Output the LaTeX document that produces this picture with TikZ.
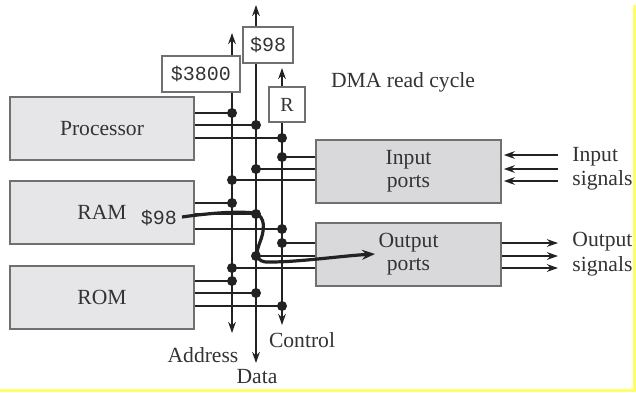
\documentclass[tikz,border=0pt]{standalone}
\usepackage{fontspec}
\setmainfont{Liberation Serif}
\setmonofont{Liberation Mono}
\usetikzlibrary{arrows.meta}
\definecolor{txt}{HTML}{333333}
\definecolor{ln}{HTML}{222222}
\definecolor{blkfill}{HTML}{E6E6E9}
\definecolor{portfill}{HTML}{D9D9DB}
\definecolor{edge}{HTML}{707070}
\definecolor{yel}{HTML}{FFFF66}
\tikzset{
  blk/.style={draw=edge, line width=0.8pt, fill=blkfill, minimum width=92pt, minimum height=31.5pt, inner sep=0pt, text=txt, font=\fontsize{10.8}{12}\selectfont},
  port/.style={blk, fill=portfill, minimum width=92.5pt, align=center, font=\fontsize{10.8}{11.5}\selectfont},
  tag/.style={draw=edge, line width=0.6pt, fill=white, inner sep=0pt, text=txt, font=\ttfamily\fontsize{10}{12}\selectfont},
  lbl/.style={text=txt, inner sep=0pt, font=\fontsize{10.8}{12}\selectfont},
  bus/.style={draw=ln, line width=1pt},
  busarrow/.style={bus, {Stealth[length=5.5pt,width=3.8pt]}-{Stealth[length=5.5pt,width=3.8pt]}},
  sig/.style={bus, -{Stealth[length=5.5pt,width=3.8pt]}},
  flow/.style={draw=ln, line width=1.6pt, -{Stealth[length=6.5pt,width=5pt]}},
  dot/.style={fill=ln, circle, inner sep=0pt, minimum size=5pt}
}
\begin{document}
\begin{tikzpicture}[x=0.5pt, y=-0.5pt]
\useasboundingbox (0,0) rectangle (636,392);
\fill[white] (0,0) rectangle (636,392);

% blocks
\node[blk] (proc) at (102,128.5) {Processor};
\node[blk] (ram) at (102,212.5) {RAM};
\node[blk] (rom) at (102,297.5) {ROM};
\node[port] (inp) at (408.5,171.5) {Input\\ports};
\node[port] (outp) at (408.5,254.5) {Output\\ports};
\node[text=txt, inner sep=0pt, font=\ttfamily\fontsize{10}{12}\selectfont] (r98) at (159,218) {\$98};

% bus end points
\coordinate (at) at (232,33);  \coordinate (ab) at (232,333);
\coordinate (dt) at (256,5);   \coordinate (db) at (256,363);
\coordinate (ct) at (282,68);  \coordinate (cb) at (282,325);
\draw[busarrow] (ab) -- (at);
\draw[busarrow] (db) -- (dt);
\draw[busarrow] (cb) -- (ct);

% tap points
\coordinate (pa) at (232,113); \coordinate (pd) at (256,125); \coordinate (pc) at (282,138);
\coordinate (ia) at (232,180); \coordinate (id) at (256,169); \coordinate (ic) at (282,157);
\coordinate (ra) at (232,203); \coordinate (rd) at (256,214); \coordinate (rc) at (282,229);
\coordinate (oa) at (232,268); \coordinate (od) at (256,256); \coordinate (oc) at (282,243);
\coordinate (ma) at (232,281); \coordinate (md) at (256,293); \coordinate (mc) at (282,306);

\draw[bus] (proc.east |- pa) -- (pa);
\draw[bus] (proc.east |- pd) -- (pd);
\draw[bus] (proc.east |- pc) -- (pc);
\draw[bus] (ram.east |- ra) -- (ra);
\draw[bus] (ram.east |- rd) -- (rd);
\draw[bus] (ram.east |- rc) -- (rc);
\draw[bus] (rom.east |- ma) -- (ma);
\draw[bus] (rom.east |- md) -- (md);
\draw[bus] (rom.east |- mc) -- (mc);
\draw[bus] (ia) -- (inp.west |- ia);
\draw[bus] (id) -- (inp.west |- id);
\draw[bus] (ic) -- (inp.west |- ic);
\draw[bus] (oa) -- (outp.west |- oa);
\draw[bus] (od) -- (outp.west |- od);
\draw[bus] (oc) -- (outp.west |- oc);

\foreach \p in {pa,pd,pc,ia,id,ic,ra,rd,rc,oa,od,oc,ma,md,mc}
  \node[dot] at (\p) {};

% address/data/control tags
\node[tag, minimum width=39pt, minimum height=18pt] (t3800) at (201,74) {\$3800};
\node[tag, minimum width=25pt, minimum height=18pt] (t98) at (268,45) {\$98};
\node[tag, font=\fontsize{10}{12}\selectfont, minimum width=18pt, minimum height=17.5pt] (tR) at (287,104.5) {R};

% signals
\coordinate (is1) at (558,155); \coordinate (is2) at (558,169); \coordinate (is3) at (558,181);
\coordinate (os1) at (558,243); \coordinate (os2) at (558,256); \coordinate (os3) at (558,268);
\draw[sig] (is1) -- ([xshift=1pt]inp.east |- is1);
\draw[sig] (is2) -- ([xshift=1pt]inp.east |- is2);
\draw[sig] (is3) -- ([xshift=1pt]inp.east |- is3);
\draw[sig] (outp.east |- os1) -- (os1);
\draw[sig] (outp.east |- os2) -- (os2);
\draw[sig] (outp.east |- os3) -- (os3);

% DMA data flow
\coordinate (fs) at (182,217);
\coordinate (fe) at (375,254);
\draw[flow] (fs) .. controls (210,213) and (238,211) .. (254,213)
  .. controls (267,216) and (264,232) .. (260,242)
  .. controls (256,252) and (254,263) .. (270,262)
  .. controls (300,262) and (340,256) .. (fe);

% labels
\node[lbl] (ttl) at (403,82) {DMA read cycle};
\node[lbl, anchor=west] (lin1) at (572,157) {Input};
\node[lbl, anchor=west] (lin2) at (572,180) {signals};
\node[lbl, anchor=west] (lout1) at (572,242) {Output};
\node[lbl, anchor=west] (lout2) at (572,266) {signals};
\node[lbl] (laddr) at (203,355) {Address};
\node[lbl] (ldata) at (257,377) {Data};
\node[lbl] (lctrl) at (302,340) {Control};

% yellow frame
\fill[yel] (633,5) rectangle (636,392);
\fill[yel] (0,388.5) rectangle (636,392);
\end{tikzpicture}
\end{document}
